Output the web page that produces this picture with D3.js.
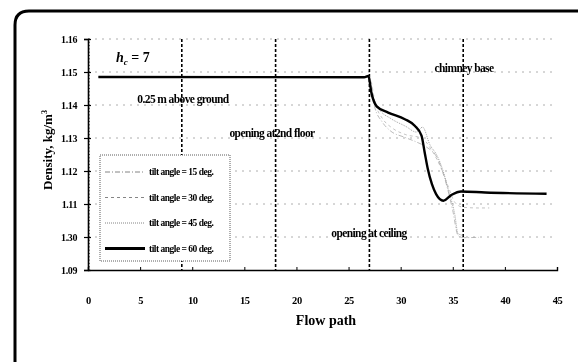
<!DOCTYPE html>
<html>
<head>
<meta charset="utf-8">
<script src="https://cdn.jsdelivr.net/npm/d3@7"></script>
<style>
  body { margin: 0; background: #fff; }
  svg { display: block; font-family: "Liberation Serif", "DejaVu Serif", serif; will-change: transform; }
</style>
</head>
<body>
<svg id="chart" width="578" height="362"></svg>
<script>
// tick labels
let xTicks = [0, 5, 10, 15, 20, 25, 30, 35, 40, 45];
let yTicks = [1.09, 1.10, 1.11, 1.12, 1.13, 1.14, 1.15, 1.16];
let yTickLabels = ["1.09", "1.30", "1.11", "1.12", "1.13", "1.14", "1.15", "1.16"];
let markers = [9, 18, 27, 36];

// series: [flow path, density]
let angle15 = [[1, 1.1485], [27, 1.1485], [27.5, 1.1395], [28.2, 1.1350], [29, 1.1322], [30.4, 1.1302],
    [31.5, 1.1288], [32.5, 1.1272], [33.5, 1.1240], [34.2, 1.1180], [35, 1.1080], [35.5, 1.1005],
    [36, 1.0998], [37.5, 1.0999]];
let angle30 = [[1, 1.1485], [27, 1.1485], [27.6, 1.1400], [28.3, 1.1357], [29.2, 1.1330], [30.5, 1.1310],
    [32, 1.1300], [33, 1.1262], [33.9, 1.1207], [34.6, 1.1150], [35.2, 1.1105], [36, 1.1090],
    [37.5, 1.1088], [38.5, 1.1088]];
let angle45 = [[1, 1.1485], [26.8, 1.1485], [27.3, 1.1430], [28, 1.1385], [29, 1.1360], [30.5, 1.1335],
    [31.5, 1.1318], [32.1, 1.1333], [32.8, 1.1280], [33.5, 1.1246], [34, 1.1207], [34.6, 1.1140],
    [35.2, 1.1067], [35.5, 1.1010], [36, 1.1005]];
let angle60 = [[1, 1.1485], [26.5, 1.1484], [26.9, 1.1488], [27.2, 1.1436], [27.7, 1.1396], [28.8, 1.1377],
    [30.4, 1.1357], [31.35, 1.1337], [32.0, 1.1307], [32.3, 1.1257], [32.6, 1.1207], [33.0, 1.1160],
    [33.4, 1.1130], [34.1, 1.1110], [34.9, 1.1128], [35.8, 1.1138], [38.1, 1.1135], [44, 1.1131]];

let seriesNames = ["tilt angle = 15 deg.", "tilt angle = 30 deg.", "tilt angle = 45 deg.", "tilt angle = 60 deg."];
let seriesData = [angle15, angle30, angle45, angle60];
let seriesDash = ["5,2,1,2", "3,3", "1,1", null];
let seriesStroke = ["#aaa", "#b5b5b5", "#999", "#000"];
let seriesWidth = [0.8, 0.8, 0.9, 2.4];

let svg = d3.select("svg#chart"),
    margin = {top: 39, left: 88},
    width = 469,
    height = 231,
    g = svg.append("g").attr("transform", "translate(" + margin.left + "," + margin.top + ")");

// outer frame
svg.append("path")
    .attr("d", "M15,362 L15,25 Q15,11 29,11 L578,11")
    .attr("fill", "none")
    .attr("stroke", "#000")
    .attr("stroke-width", 3);

let x = d3.scaleLinear().domain([0, 45]).range([0, width]);
let y = d3.scaleLinear().domain([1.09, 1.16]).range([height, 0]);

// dotted grid
g.append("g")
    .selectAll("line")
    .data(yTicks.slice(1))
    .enter().append("line")
    .attr("x1", 0).attr("x2", width)
    .attr("y1", d => y(d)).attr("y2", d => y(d))
    .attr("stroke", "#999")
    .attr("stroke-width", 0.8)
    .attr("stroke-dasharray", "2,5");

// axes
let yAxis = g.append("g")
    .call(d3.axisLeft(y).tickValues(yTicks).tickSize(4).tickFormat((d, i) => yTickLabels[i]));
yAxis.select(".domain").attr("stroke-width", 1.6);
yAxis.selectAll("text")
    .attr("x", -11)
    .attr("fill", "#000")
    .attr("font-size", 10)
    .attr("font-weight", "bold")
    .attr("letter-spacing", -0.4)
    .attr("font-family", "Liberation Serif");
yAxis.selectAll(".tick line").attr("x2", 3).attr("x1", -4).attr("stroke-width", 1.2);

// minor ticks along the y axis
g.append("g")
    .selectAll("line")
    .data(d3.range(0, 71).map(i => 1.09 + i * 0.001))
    .enter().append("line")
    .attr("x1", 0).attr("x2", 2)
    .attr("y1", d => y(d)).attr("y2", d => y(d))
    .attr("stroke", "#000")
    .attr("stroke-width", 0.6);

let xAxis = g.append("g")
    .attr("transform", "translate(0," + height + ")")
    .call(d3.axisBottom(x).tickValues(xTicks).tickSize(-3).tickPadding(27));
xAxis.select(".domain").attr("stroke-width", 1.4);
xAxis.selectAll("text")
    .attr("fill", "#000")
    .attr("font-size", 10.5)
    .attr("font-weight", "bold")
    .attr("letter-spacing", -0.4)
    .attr("font-family", "Liberation Serif");

// vertical markers
g.append("g")
    .selectAll("line")
    .data(markers)
    .enter().append("line")
    .attr("x1", d => x(d)).attr("x2", d => x(d))
    .attr("y1", 0).attr("y2", height)
    .attr("stroke", "#000")
    .attr("stroke-width", 1.6)
    .attr("stroke-dasharray", "3,2");

// series
let line = d3.line()
    .x(d => x(d[0]))
    .y(d => y(d[1]))
    .curve(d3.curveMonotoneX);

g.append("g")
    .selectAll("path")
    .data(seriesData)
    .enter().append("path")
    .attr("d", line)
    .attr("fill", "none")
    .attr("stroke", (d, i) => seriesStroke[i])
    .attr("stroke-width", (d, i) => seriesWidth[i])
    .attr("stroke-dasharray", (d, i) => seriesDash[i]);

// annotations
let notes = [
    {t: "0.25 m above ground", x: 183, y: 103},
    {t: "opening at2nd floor", x: 272, y: 137},
    {t: "chimney base", x: 464, y: 72},
    {t: "opening at ceiling", x: 369, y: 237}
];
svg.append("g")
    .selectAll("text")
    .data(notes)
    .enter().append("text")
    .attr("x", d => d.x).attr("y", d => d.y)
    .attr("text-anchor", "middle")
    .attr("font-size", 11.5)
    .attr("font-weight", "bold")
    .attr("letter-spacing", -0.6)
    .text(d => d.t);

let hc = svg.append("text")
    .attr("x", 116).attr("y", 62)
    .attr("font-size", 14)
    .attr("font-style", "italic")
    .attr("font-weight", "bold");
hc.append("tspan").text("h");
hc.append("tspan").attr("font-size", 9).attr("dy", 3).text("c");
hc.append("tspan").attr("dy", -3).attr("font-style", "normal").text(" = 7");

// legend
let legend = svg.append("g").attr("transform", "translate(100,155)");
legend.append("rect")
    .attr("width", 130).attr("height", 106)
    .attr("fill", "#fff")
    .attr("stroke", "#333")
    .attr("stroke-width", 0.8)
    .attr("stroke-dasharray", "1,1");
let entries = legend.selectAll("g.entry")
    .data(seriesNames)
    .enter().append("g")
    .attr("class", "entry")
    .attr("transform", (d, i) => "translate(0," + (17 + i * 25.5) + ")");
entries.append("line")
    .attr("x1", 5).attr("x2", 45)
    .attr("stroke", (d, i) => seriesStroke[i] === "#000" ? "#000" : "#777")
    .attr("stroke-width", (d, i) => seriesWidth[i] > 2 ? 3 : 0.9)
    .attr("stroke-dasharray", (d, i) => seriesDash[i]);
entries.append("text")
    .attr("x", 49).attr("y", 3)
    .attr("font-size", 9.5)
    .attr("font-weight", "bold")
    .attr("letter-spacing", -0.5)
    .text(d => d);

// axis titles
svg.append("text")
    .attr("x", 326).attr("y", 325)
    .attr("text-anchor", "middle")
    .attr("font-size", 14)
    .attr("font-weight", "bold")
    .text("Flow path");

let yt = svg.append("text")
    .attr("transform", "translate(52,150) rotate(-90)")
    .attr("text-anchor", "middle")
    .attr("font-size", 13)
    .attr("font-weight", "bold");
yt.append("tspan").text("Density, kg/m");
yt.append("tspan").attr("font-size", 8).attr("dy", -5).text("3");
</script>
</body>
</html>
